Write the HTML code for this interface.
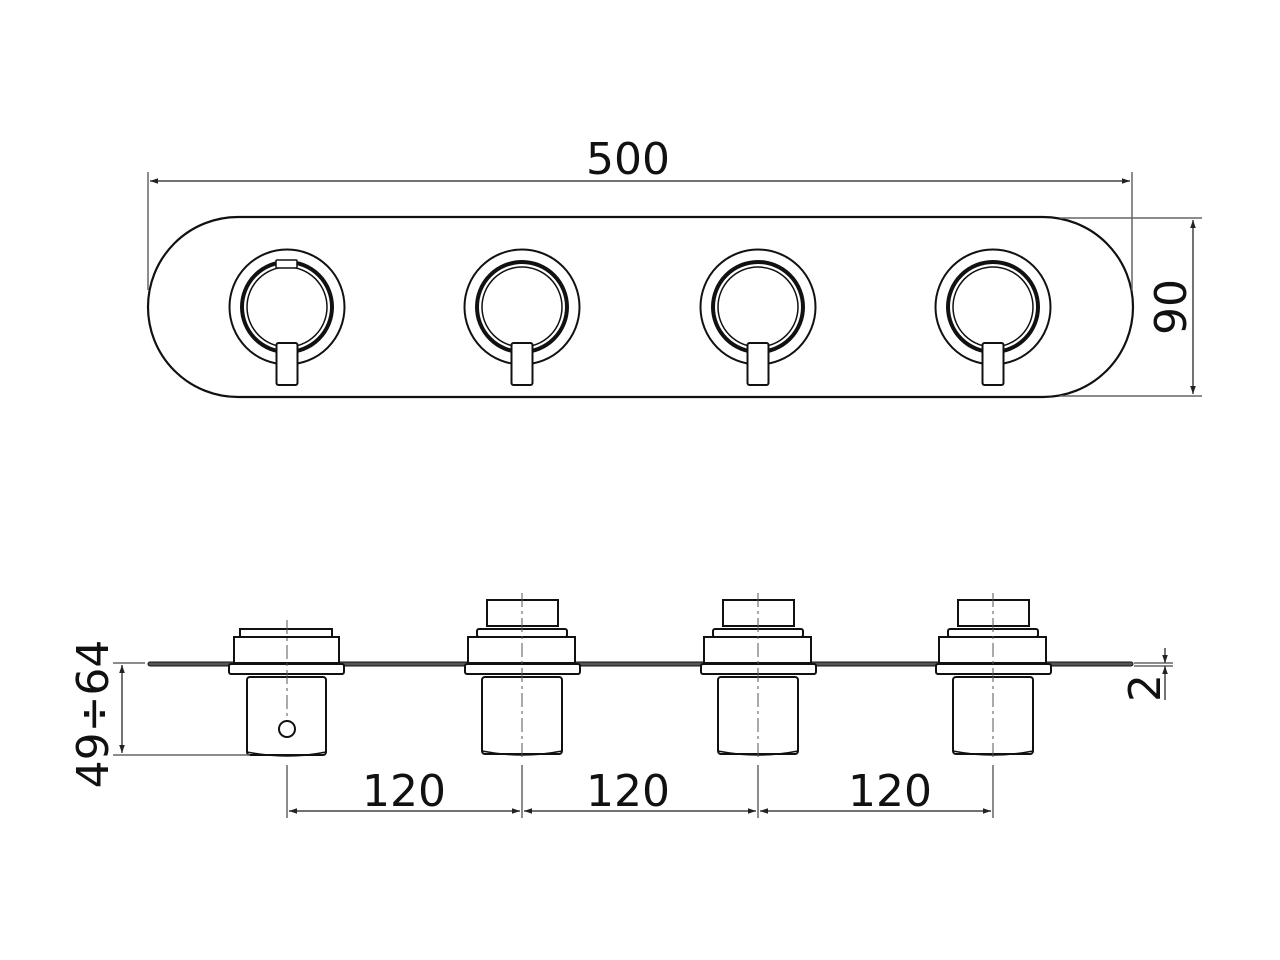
<!DOCTYPE html>
<html><head><meta charset="utf-8"><style>html,body{margin:0;padding:0;background:#fff}svg{display:block}</style></head>
<body>
<svg width="1280" height="960" viewBox="0 0 1280 960" xmlns="http://www.w3.org/2000/svg">
<defs>
<marker id="a" viewBox="0 0 10 10" refX="10" refY="5" markerWidth="10" markerHeight="8" orient="auto-start-reverse" markerUnits="userSpaceOnUse"><path d="M0,1.5 L10,5 L0,8.5 z" fill="#222"/></marker>
<g id="kt" fill="none" stroke="#111">
<circle r="57.5" stroke-width="2"/>
<circle r="45" stroke-width="4"/>
<circle r="40" stroke-width="1.5"/>
<rect x="-10.5" y="36" width="21" height="42" rx="2" fill="#fff" stroke-width="2"/>
</g>
<g id="kb" fill="#fff" stroke="#111" stroke-width="2">
<rect x="-35" y="-63" width="71" height="26"/>
<rect x="-45" y="-34" width="90" height="8" rx="2"/>
<rect x="-54" y="-26" width="107" height="26"/>
<rect x="-40" y="14" width="80" height="77" rx="3"/>
<path d="M-40,88 Q0,96 40,88" fill="none" stroke-width="1.5"/>
<rect x="-57" y="1" width="115" height="10" rx="2"/>
<line x1="0" y1="-70" x2="0" y2="96" stroke="#555" stroke-width="1" stroke-dasharray="14,4,3,4"/>
</g>
</defs>
<g font-family="'DejaVu Sans','Liberation Sans',sans-serif" font-size="44" fill="#111">
<!-- top view -->
<rect x="148" y="217" width="985" height="180" rx="90" ry="90" fill="none" stroke="#111" stroke-width="2.2"/>
<use href="#kt" x="287" y="307"/>
<rect x="276" y="260" width="21" height="8" rx="1" fill="#fff" stroke="#111" stroke-width="1.5"/>
<use href="#kt" x="522" y="307"/>
<use href="#kt" x="758" y="307"/>
<use href="#kt" x="993" y="307"/>
<!-- 500 -->
<g stroke="#666" stroke-width="1.5">
<line x1="148" y1="172" x2="148" y2="290"/>
<line x1="1132" y1="172" x2="1132" y2="290"/>
<line x1="150" y1="181" x2="1130" y2="181" marker-start="url(#a)" marker-end="url(#a)" stroke="#444"/>
<line x1="1060" y1="218" x2="1202" y2="218"/>
<line x1="1060" y1="396" x2="1202" y2="396"/>
<line x1="1193" y1="220" x2="1193" y2="394" marker-start="url(#a)" marker-end="url(#a)" stroke="#444"/>
</g>
<text x="628" y="174" text-anchor="middle">500</text>
<text transform="translate(1186,307) rotate(-90)" text-anchor="middle">90</text>
<!-- bottom view -->
<rect x="148" y="662" width="985" height="4" rx="2" fill="#555" stroke="#111" stroke-width="1"/>
<g fill="#fff" stroke="#111" stroke-width="2">
<rect x="240" y="629" width="92" height="8"/>
<rect x="234" y="637" width="105" height="26"/>
<rect x="247" y="677" width="79" height="78" rx="3"/>
<path d="M247,752 Q287,760 326,752" fill="none" stroke-width="1.5"/>
<rect x="229" y="664" width="115" height="10" rx="2"/>
<circle cx="287" cy="729" r="8"/>
<line x1="287" y1="620" x2="287" y2="720" stroke="#555" stroke-width="1" stroke-dasharray="14,4,3,4"/>
</g>
<use href="#kb" x="522" y="663"/>
<use href="#kb" x="758" y="663"/>
<use href="#kb" x="993" y="663"/>
<!-- dims bottom -->
<g stroke="#666" stroke-width="1.5">
<line x1="113" y1="663" x2="145" y2="663"/>
<line x1="113" y1="755" x2="250" y2="755"/>
<line x1="122" y1="665" x2="122" y2="753" marker-start="url(#a)" marker-end="url(#a)" stroke="#444"/>
<line x1="287" y1="765" x2="287" y2="818"/>
<line x1="522" y1="765" x2="522" y2="818"/>
<line x1="758" y1="765" x2="758" y2="818"/>
<line x1="993" y1="765" x2="993" y2="818"/>
<line x1="289" y1="811" x2="520" y2="811" marker-start="url(#a)" marker-end="url(#a)" stroke="#444"/>
<line x1="524" y1="811" x2="756" y2="811" marker-start="url(#a)" marker-end="url(#a)" stroke="#444"/>
<line x1="760" y1="811" x2="991" y2="811" marker-start="url(#a)" marker-end="url(#a)" stroke="#444"/>
<line x1="1134" y1="663" x2="1173" y2="663"/>
<line x1="1134" y1="666" x2="1173" y2="666"/>
<line x1="1165" y1="648" x2="1165" y2="663" marker-end="url(#a)" stroke="#444"/>
<line x1="1165" y1="700" x2="1165" y2="666" marker-end="url(#a)" stroke="#444"/>
</g>
<text transform="translate(108,714) rotate(-90)" text-anchor="middle">49÷64</text>
<text transform="translate(1160,688) rotate(-90)" text-anchor="middle">2</text>
<text x="404" y="806" text-anchor="middle">120</text>
<text x="628" y="806" text-anchor="middle">120</text>
<text x="890" y="806" text-anchor="middle">120</text>
</g>
</svg>
</body></html>
